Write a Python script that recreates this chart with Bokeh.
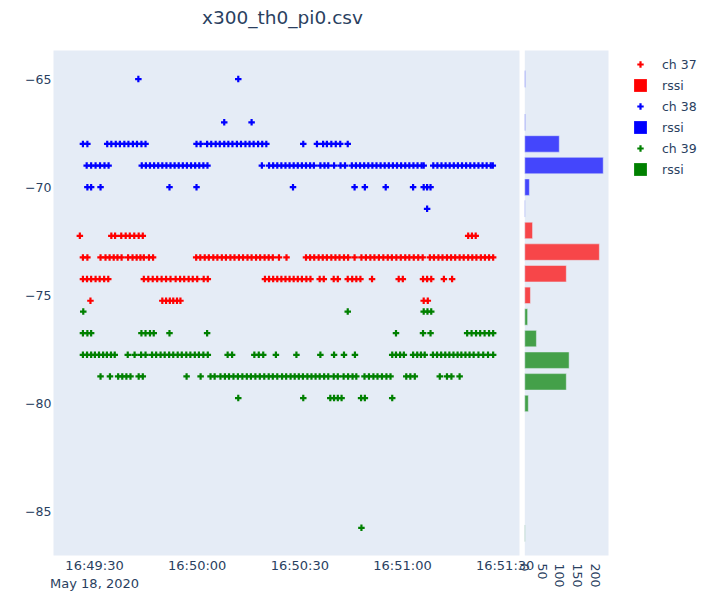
import math
from datetime import datetime, timedelta

from bokeh.plotting import figure
from bokeh.models import (Range1d, FixedTicker, DatetimeTickFormatter, Legend, LegendItem,
                          LinearAxis, BoxAnnotation, Label)
from bokeh.embed import file_html
from bokeh.resources import INLINE

# ---------------- data ----------------
TITLE = "x300_th0_pi0.csv"
DATE = "2020-05-18"
T0 = "16:49:30"                       # time origin of the offsets below (seconds)
x_tick_labels = ["16:49:30", "16:50:00", "16:50:30", "16:51:00", "16:51:30"]
y_ticks = [-85, -80, -75, -70, -65]
hist_ticks = [0, 50, 100, 150, 200]

# ch 37 (red) : rssi level -> time offsets (s) of the visible markers
ch37_m72 = [-4.3, 4.9, 6.0, 7.8, 9.1, 10.3, 11.6, 12.9, 14.1, 109.2, 110.3, 111.4]
ch37_m73 = [-3.4, -2.1, 1.75, 3.2, 4.4, 5.6, 6.7, 7.9, 9.8, 11.1, 12.3, 13.4, 14.4, 15.9, 17.1,
            29.7, 30.9, 32.2, 33.4, 34.7, 35.9, 37.2, 38.4, 39.7, 40.9, 42.2, 43.4, 44.7, 45.9,
            47.2, 48.4, 49.7, 50.9, 52.1, 53.9, 56.1,
            61.8, 63.0, 64.2, 65.5, 66.7, 67.9, 69.2, 70.4, 71.6, 72.9, 74.1, 76.0,
            78.0, 79.3, 80.6, 81.8, 83.1, 84.4, 85.7, 86.9, 88.2, 89.5, 90.8, 92.0, 93.3, 94.6, 95.9,
            98.0, 99.2, 100.5, 101.7, 103.0, 104.2, 105.4, 106.7, 107.9, 109.2, 110.4, 111.6,
            112.9, 114.1, 115.3, 116.5]
ch37_m74 = [-3.4, -2.2, -1.0, 0.3, 1.5, 2.8, 4.0, 14.4, 15.7, 17.0, 18.3, 19.6, 20.9, 22.2,
            23.7, 25.0, 26.2, 27.5, 28.7, 30.0, 31.9, 33.1,
            49.8, 51.0, 52.2, 53.4, 54.6, 55.8, 57.0, 58.2, 59.4, 60.6, 61.9, 63.1,
            65.8, 67.0, 69.9, 71.1, 74.0, 75.3, 76.5, 77.7, 81.1, 88.9, 90.1,
            96.0, 97.2, 98.4, 102.1, 104.5]
ch37_m75 = [-1.2, 19.8, 20.9, 22.0, 23.0, 24.1, 25.1, 96.2, 97.4]

# ch 38 (blue)
ch38_m65 = [12.8, 42.0]
ch38_m67 = [37.9, 45.9]
ch38_m68 = [-3.4, -2.1, 3.7, 4.9, 6.2, 7.4, 8.7, 9.9, 11.2, 12.4, 13.7, 14.9,
            29.8, 31.0, 32.9, 34.1, 35.4, 36.6, 37.9, 39.1, 40.3, 41.6, 42.8, 44.1, 45.3,
            46.5, 47.8, 49.0, 50.2, 61.0, 65.0, 66.8, 67.9, 69.2, 70.5, 71.8, 74.0]
ch38_m69 = [-2.3, -1.0, 0.3, 1.6, 2.9, 4.1,
            13.8, 15.0, 16.2, 17.4, 18.6, 19.8, 21.0, 22.2, 23.4, 24.6, 25.8, 27.0, 28.2,
            29.4, 30.6, 31.8, 33.0, 48.9,
            51.0, 52.2, 53.4, 54.6, 55.8, 57.0, 58.2, 59.4, 60.6, 61.8, 63.0, 64.1,
            66.0, 67.2, 68.3, 70.0, 71.9, 73.2,
            75.2, 76.4, 77.6, 78.8, 80.0, 81.2, 82.4, 83.6, 84.8, 86.0, 87.2, 88.4, 89.6,
            90.8, 92.0, 93.2, 94.4, 95.6, 96.2,
            99.0, 100.2, 101.4, 102.6, 103.8, 105.0, 106.2, 107.4, 108.6, 109.8, 111.0,
            112.2, 113.4, 114.6, 115.8, 116.4]
ch38_m70 = [-2.1, -1.0, 1.75, 21.9, 29.8, 58.0, 76.0, 79.0, 85.1, 93.1, 96.2, 97.2, 98.2]
ch38_m71 = [97.2]

# ch 39 (green)
ch39_m76 = [-3.3, 74.0, 96.2, 97.3, 98.4]
ch39_m77 = [-3.4, -2.1, -1.0, 13.7, 14.9, 16.2, 17.3, 21.9, 32.9, 88.1, 96.0, 98.2,
            108.9, 110.2, 111.5, 112.7, 114.0, 115.3, 116.5]
ch39_m78 = [-3.4, -2.2, -1.0, 0.1, 1.3, 2.5, 3.6, 4.8, 5.9, 9.7, 11.7, 13.6, 14.9,
            16.8, 18.0, 19.3, 20.5, 21.8, 23.0, 24.3, 25.5, 26.8, 28.0, 29.3, 30.5, 31.8, 33.1,
            38.9, 40.2, 46.7, 48.0, 49.3, 53.0, 59.0, 66.0, 70.0, 72.9, 76.1,
            87.0, 88.1, 89.3, 90.4, 93.1, 94.3, 95.4, 96.5,
            98.9, 100.1, 101.3, 102.5, 103.7, 104.9, 106.1, 107.2, 108.4, 109.6,
            110.8, 112.2, 113.6, 115.0, 116.5]
ch39_m79 = [1.75, 4.5, 6.9, 8.1, 9.3, 10.5, 12.9, 14.1, 26.9, 31.0, 33.9, 35.1,
            36.8, 38.1, 39.3, 40.6, 41.9, 43.2, 44.5, 45.7, 47.0, 48.3, 49.6, 50.9, 52.1, 53.4,
            54.8, 56.0, 57.3, 58.5, 59.7, 60.9, 62.2, 63.4, 64.6, 65.8, 67.1, 68.3,
            69.9, 71.1, 72.8, 74.1, 75.4, 76.5, 78.9, 80.2, 81.5, 82.7, 84.0, 85.3, 86.5,
            91.1, 92.3, 93.6, 100.9, 103.0, 104.3, 106.7]
ch39_m80 = [42.0, 61.0, 68.9, 70.0, 71.1, 72.2, 77.9, 79.0, 87.0]
ch39_m86 = [78.0]

# marginal histogram (rssi counts per channel)
hist_levels_ch37 = [-72, -73, -74, -75]
hist_counts_ch37 = [22, 212, 118, 16]
hist_levels_ch38 = [-65, -67, -68, -69, -70, -71]
hist_counts_ch38 = [2, 2, 98, 223, 13, 1]
hist_levels_ch39 = [-76, -77, -78, -79, -80, -86]
hist_counts_ch39 = [8, 33, 126, 118, 10, 1]

# display offset of each channel's markers (rssi units)
ch37_offset = -0.25
ch38_offset = 0.0
ch39_offset = 0.25

# axis ranges of the two panels of the reference
main_x_span = (-12.0, 124.2)      # seconds from T0
main_y_span = (-87.03, -63.68)    # rssi
hist_x_span = (0, 238)            # count

# ---------------- layout (pixels) ----------------
W, H = 712, 591
MAIN_L, MAIN_R, TOP, BOT = 53, 519, 50, 555
HIST_L, HIST_R = 524.3, 608

# ---------------- helpers ----------------
def parse(hms):
    return datetime.strptime(DATE + " " + hms, "%Y-%m-%d %H:%M:%S")

t0 = parse(T0)
EPOCH = datetime(1970, 1, 1)

def to_ms(dt):
    return (dt - EPOCH).total_seconds() * 1000.0

def build(rows, offset):
    xs, ys = [], []
    for level, times in rows:
        for t in times:
            xs.append(t0 + timedelta(seconds=t))
            ys.append(level + offset)
    return xs, ys

series = [
    ("ch 37", "red", build([(-72, ch37_m72), (-73, ch37_m73), (-74, ch37_m74), (-75, ch37_m75)], ch37_offset),
     hist_levels_ch37, hist_counts_ch37),
    ("ch 38", "blue", build([(-65, ch38_m65), (-67, ch38_m67), (-68, ch38_m68), (-69, ch38_m69),
                             (-70, ch38_m70), (-71, ch38_m71)], ch38_offset),
     hist_levels_ch38, hist_counts_ch38),
    ("ch 39", "green", build([(-76, ch39_m76), (-77, ch39_m77), (-78, ch39_m78), (-79, ch39_m79),
                              (-80, ch39_m80), (-86, ch39_m86)], ch39_offset),
     hist_levels_ch39, hist_counts_ch39),
]

FONT = "DejaVu Sans"
TXT = "#2a3f5f"
BG = "#E5ECF6"

# the whole canvas is the frame; the panel ranges are extended to the canvas edges
sx_per_s = (MAIN_R - MAIN_L) / (main_x_span[1] - main_x_span[0])
x0_s = main_x_span[0] - MAIN_L / sx_per_s
x1_s = main_x_span[0] + (W - MAIN_L) / sx_per_s
py_per_u = (BOT - TOP) / (main_y_span[1] - main_y_span[0])
y_top = main_y_span[1] + TOP / py_per_u
y_bot = main_y_span[0] - (H - BOT) / py_per_u
hx_per_u = (HIST_R - HIST_L) / (hist_x_span[1] - hist_x_span[0])
h0 = hist_x_span[0] - HIST_L / hx_per_u
h1 = hist_x_span[0] + (W - HIST_L) / hx_per_u

p = figure(width=W, height=H, x_axis_type="datetime",
           x_range=Range1d(t0 + timedelta(seconds=x0_s), t0 + timedelta(seconds=x1_s)),
           y_range=Range1d(y_bot, y_top), output_backend="svg", toolbar_location=None,
           min_border_left=0, min_border_right=0, min_border_top=0, min_border_bottom=0,
           background_fill_color="white", border_fill_color="white", outline_line_color=None)
p.extra_x_ranges = {"hist": Range1d(h0, h1)}
p.xgrid.visible = False
p.ygrid.visible = False

# panel backgrounds
p.add_layout(BoxAnnotation(left=to_ms(t0 + timedelta(seconds=main_x_span[0])),
                           right=to_ms(t0 + timedelta(seconds=main_x_span[1])),
                           bottom=main_y_span[0], top=main_y_span[1],
                           fill_color=BG, fill_alpha=1, line_color=None, level="underlay"))
p.add_layout(BoxAnnotation(left=hist_x_span[0], right=hist_x_span[1], x_range_name="hist",
                           bottom=main_y_span[0], top=main_y_span[1],
                           fill_color=BG, fill_alpha=1, line_color=None, level="underlay"))

def style_axis(ax, size):
    ax.axis_line_color = None
    ax.major_tick_line_color = None
    ax.minor_tick_line_color = None
    ax.major_tick_out = 0
    ax.major_tick_in = 0
    ax.minor_tick_out = 0
    ax.minor_tick_in = 0
    ax.major_label_text_font = FONT
    ax.major_label_text_font_size = size
    ax.major_label_text_color = TXT

# time axis
fmt_t = "%H:%M:%S"
fmt_d = "%b %d, %Y"
keys = ["microseconds", "milliseconds", "seconds", "minsec", "minutes", "hourmin",
        "hours", "days", "months", "years"]
ctx_fmt = DatetimeTickFormatter(**{k: fmt_d for k in keys})
xax = p.xaxis[0]
xax.formatter = DatetimeTickFormatter(**{k: fmt_t for k in keys}, context=ctx_fmt,
                                      context_which="start")
xax.ticker = FixedTicker(ticks=[to_ms(parse(s)) for s in x_tick_labels])
xax.fixed_location = main_y_span[0]
style_axis(xax, "13px")
xax.major_label_standoff = 2

# rssi axis
yax = p.yaxis[0]
yax.ticker = FixedTicker(ticks=y_ticks)
yax.major_label_overrides = {v: str(v).replace("-", "\u2212") for v in y_ticks}
yax.fixed_location = to_ms(t0 + timedelta(seconds=main_x_span[0]))
style_axis(yax, "12.5px")
yax.major_label_standoff = 2

# histogram count axis
hax = LinearAxis(x_range_name="hist", ticker=FixedTicker(ticks=hist_ticks),
                 major_label_orientation=-math.pi / 2, fixed_location=main_y_span[0])
style_axis(hax, "12.5px")
hax.major_label_standoff = 8
p.add_layout(hax, "below")

# scatter
scat = {}
for name, color, (xs, ys), _, _ in series:
    scat[name] = p.scatter(xs, ys, marker="cross", size=6.5, line_width=2.2, color=color)

# marginal histogram
for name, color, _, levels, counts in series:
    p.hbar(y=levels, right=counts, left=0, height=0.76, x_range_name="hist",
           fill_color=color, fill_alpha=0.7, line_color=BG, line_width=0.5)

# title
p.add_layout(Label(x=282, y=H - 17, x_units="screen", y_units="screen", text=TITLE,
                   text_align="center", text_baseline="middle",
                   text_font=FONT, text_font_size="18.5px", text_color=TXT))

# legend (the "rssi" swatches are opaque; their renderers hold no drawable bar)
items = []
for name, color, _, _, _ in series:
    sq = p.hbar(y=[math.nan], right=[math.nan], left=[math.nan], height=0.76,
                x_range_name="hist", fill_color=color, fill_alpha=1.0, line_color=None)
    items.append(LegendItem(label=name, renderers=[scat[name]]))
    items.append(LegendItem(label="rssi", renderers=[sq]))

legend = Legend(items=items, location=(632, H - 56 - 121), orientation="vertical",
                glyph_width=16, glyph_height=16, label_height=16, spacing=5,
                padding=0, margin=0, label_standoff=14,
                label_text_font=FONT, label_text_font_size="12.5px", label_text_color=TXT,
                border_line_alpha=0, background_fill_alpha=0)
p.add_layout(legend)

with open("out.html", "w") as f:
    f.write(file_html(p, INLINE, title=TITLE))
